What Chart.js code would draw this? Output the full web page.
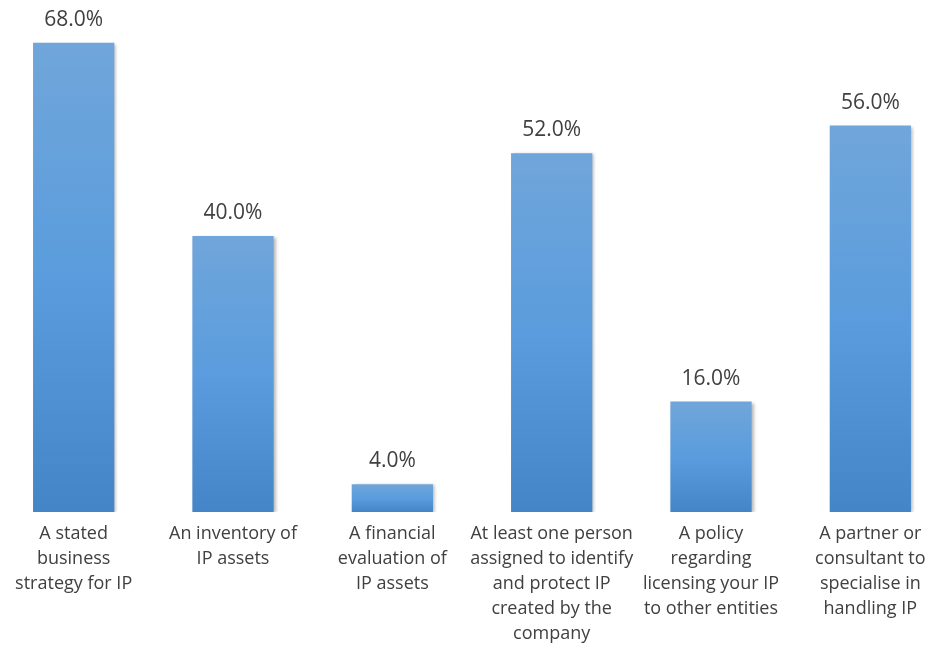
<!DOCTYPE html>
<html>
<head>
<meta charset="utf-8">
<script src="https://cdn.jsdelivr.net/npm/chart.js@4/dist/chart.umd.min.js"></script>
<style>
  html, body { margin: 0; padding: 0; background: #fff; overflow: hidden; }
  #wrap { position: absolute; left: -6px; top: 0; width: 956px; height: 648px; }
</style>
</head>
<body>
<div id="wrap"><canvas id="ipChart"></canvas></div>
<script>
// survey answers: what the companies have in place for IP
const categories = [
  ["A stated", "business", "strategy for IP"],
  ["An inventory of", "IP assets"],
  ["A financial", "evaluation of", "IP assets"],
  ["At least one person", "assigned to identify", "and protect IP", "created by the", "company"],
  ["A policy", "regarding", "licensing your IP", "to other entities"],
  ["A partner or", "consultant to", "specialise in", "handling IP"]
];
const shares = [68, 40, 4, 52, 16, 56];

const textColor = "#404040";
const fontFamily = "'Open Sans', 'Noto Sans', sans-serif";

// each bar gets its own top-to-bottom gradient
function barGradient(context) {
  const chart = context.chart;
  const yScale = chart.scales.y;
  if (!yScale || context.raw === undefined) return "#5A9BDB";
  const top = yScale.getPixelForValue(context.raw);
  const bottom = yScale.getPixelForValue(0);
  if (!isFinite(top) || !isFinite(bottom) || top === bottom) return "#5A9BDB";
  const g = chart.ctx.createLinearGradient(0, top, 0, bottom);
  g.addColorStop(0, "#70A6DA");
  g.addColorStop(0.5, "#5A9CDD");
  g.addColorStop(1, "#4385C6");
  return g;
}

// soft drop shadow behind the bars
const barShadow = {
  id: "barShadow",
  beforeDatasetDraw(chart) {
    const ctx = chart.ctx;
    ctx.save();
    ctx.shadowColor = "rgba(0,0,0,0.28)";
    ctx.shadowBlur = 3;
    ctx.shadowOffsetX = 2;
    ctx.shadowOffsetY = 1;
  },
  afterDatasetDraw(chart) {
    chart.ctx.restore();
  }
};

// percentage printed above each bar
const valueLabels = {
  id: "valueLabels",
  afterDatasetsDraw(chart) {
    const ctx = chart.ctx;
    const meta = chart.getDatasetMeta(0);
    ctx.save();
    ctx.fillStyle = textColor;
    ctx.font = "21px " + fontFamily;
    ctx.textAlign = "center";
    ctx.textBaseline = "middle";
    meta.data.forEach((bar, i) => {
      ctx.fillText(shares[i].toFixed(1) + "%", bar.x, bar.y - 23);
    });
    ctx.restore();
  }
};

new Chart(document.getElementById("ipChart"), {
  type: "bar",
  data: {
    labels: categories,
    datasets: [{
      data: shares,
      backgroundColor: barGradient,
      borderWidth: 0,
      categoryPercentage: 1,
      barPercentage: 0.51
    }]
  },
  options: {
    responsive: true,
    maintainAspectRatio: false,
    animation: false,
    layout: { padding: { top: 0, bottom: -7, left: 0, right: 0 } },
    plugins: {
      legend: { display: false },
      tooltip: { enabled: false }
    },
    scales: {
      x: {
        grid: { display: false, drawTicks: false },
        border: { display: false },
        ticks: {
          color: textColor,
          font: { family: fontFamily, size: 18, lineHeight: 1.39 },
          padding: 9,
          maxRotation: 0,
          autoSkip: false
        }
      },
      y: {
        display: false,
        min: 0,
        max: 74.2
      }
    }
  },
  plugins: [barShadow, valueLabels]
});
</script>
</body>
</html>
